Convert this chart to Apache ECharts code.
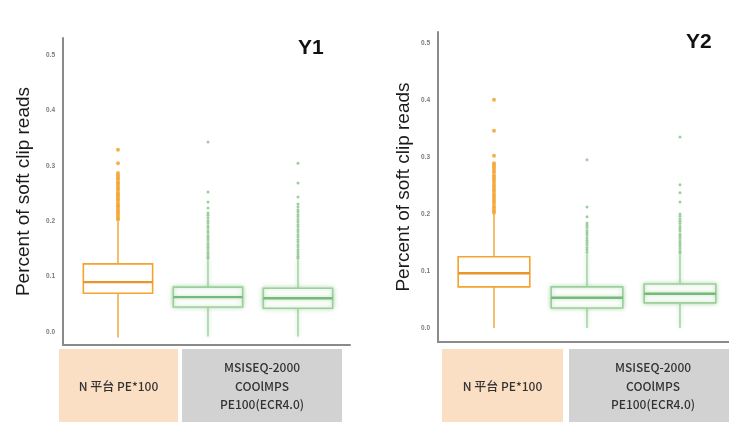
<!DOCTYPE html>
<html>
<head>
<meta charset="utf-8">
<script src="https://cdn.jsdelivr.net/npm/echarts@6/dist/echarts.min.js"></script>
<style>
  html, body { margin: 0; padding: 0; background: #ffffff; }
  #chart { width: 729px; height: 422px; }
</style>
</head>
<body>
<div id="chart"></div>
<script>
// Panel titles and axis text
const panelTitles = ['Y1', 'Y2'];
const yAxisTitle = 'Percent of soft clip reads';
const yTicks = [0, 0.1, 0.2, 0.3, 0.4, 0.5];
const platformLabels = ['N 平台 PE*100', 'MSISEQ-2000\nCOOlMPS\nPE100(ECR4.0)'];

// Box summaries: [group, lower whisker, Q1, median, Q3, upper whisker]
const y1Boxes = [
  [1, -0.010, 0.070, 0.090, 0.123, 0.200],
  [2, -0.008, 0.045, 0.063, 0.081, 0.130],
  [3, -0.008, 0.043, 0.061, 0.079, 0.130]
];
const y2Boxes = [
  [1, 0.000, 0.072, 0.096, 0.125, 0.200],
  [2, 0.000, 0.035, 0.053, 0.072, 0.130],
  [3, 0.000, 0.044, 0.060, 0.077, 0.130]
];

// Outlying samples per group
const y1Out1 = [0.329, 0.305, 0.287, 0.283, 0.279, 0.276, 0.271, 0.268, 0.264, 0.260, 0.257, 0.252, 0.249,
  0.245, 0.241, 0.238, 0.233, 0.229, 0.226, 0.222, 0.218, 0.214, 0.210, 0.206, 0.203];
const y1Out2 = [0.343, 0.253, 0.235, 0.224, 0.215, 0.211, 0.206, 0.201, 0.197, 0.192, 0.188, 0.183, 0.179,
  0.174, 0.170, 0.166, 0.161, 0.157, 0.153, 0.149, 0.144, 0.140, 0.136, 0.133];
const y1Out3 = [0.305, 0.269, 0.244, 0.231, 0.226, 0.221, 0.217, 0.212, 0.208, 0.203, 0.199, 0.194, 0.190,
  0.185, 0.181, 0.176, 0.172, 0.167, 0.163, 0.158, 0.154, 0.149, 0.145, 0.141, 0.137, 0.133];
const y2Out1 = [0.400, 0.346, 0.302, 0.289, 0.285, 0.281, 0.277, 0.273, 0.268, 0.264, 0.260, 0.256, 0.251,
  0.247, 0.243, 0.239, 0.234, 0.230, 0.226, 0.222, 0.218, 0.213, 0.209, 0.205, 0.202];
const y2Out2 = [0.295, 0.212, 0.195, 0.184, 0.180, 0.176, 0.171, 0.167, 0.163, 0.158, 0.154, 0.150, 0.146,
  0.141, 0.137, 0.133];
const y2Out3 = [0.335, 0.251, 0.237, 0.221, 0.200, 0.196, 0.191, 0.187, 0.183, 0.178, 0.174, 0.170, 0.165,
  0.161, 0.157, 0.152, 0.148, 0.144, 0.140, 0.135, 0.132];

const ORANGE = '#F3A32E';
const ORANGE_MED = '#E9952A';
const GREEN = '#9CCF9C';
const GREEN_MED = '#77B97A';
const GREEN_DOT = '#8CC78C';
const BOX_SPAN = 0.77;

function boxRenderer(colors) {
  return function (params, api) {
    const x = api.value(0);
    const c = colors[params.dataIndex];
    const lo = api.coord([x, api.value(1)]);
    const q1 = api.coord([x, api.value(2)]);
    const md = api.coord([x, api.value(3)]);
    const q3 = api.coord([x, api.value(4)]);
    const hi = api.coord([x, api.value(5)]);
    const w = api.size([BOX_SPAN, 0])[0];
    const glow = c.glow ? { shadowBlur: 4, shadowColor: c.glow } : {};
    return {
      type: 'group',
      children: [
        { type: 'line', shape: { x1: lo[0], y1: lo[1], x2: q1[0], y2: q1[1] },
          style: Object.assign({ stroke: c.line, lineWidth: 1.4 }, glow) },
        { type: 'line', shape: { x1: q3[0], y1: q3[1], x2: hi[0], y2: hi[1] },
          style: Object.assign({ stroke: c.line, lineWidth: 1.4 }, glow) },
        { type: 'rect', shape: { x: q3[0] - w / 2, y: q3[1], width: w, height: q1[1] - q3[1] },
          style: Object.assign({ fill: '#ffffff', stroke: c.line, lineWidth: 1.6 }, glow) },
        { type: 'line', shape: { x1: md[0] - w / 2, y1: md[1], x2: md[0] + w / 2, y2: md[1] },
          style: Object.assign({ stroke: c.median, lineWidth: 2.4 }, glow) }
      ]
    };
  };
}

const boxColors = [
  { line: ORANGE, median: ORANGE_MED },
  { line: GREEN, median: GREEN_MED, glow: 'rgba(140,200,140,0.6)' },
  { line: GREEN, median: GREEN_MED, glow: 'rgba(140,200,140,0.6)' }
];

function outlierSeries(values, group, axisIdx, color, size) {
  return {
    type: 'scatter',
    xAxisIndex: axisIdx,
    yAxisIndex: axisIdx,
    symbolSize: size,
    itemStyle: { color: color, opacity: 0.85 },
    z: 1,
    silent: true,
    data: values.map(v => [group, v])
  };
}

const FONT = 'Liberation Sans, Arial, sans-serif';

function yAxisDef(gridIdx, min, max, gap) {
  return {
    type: 'value',
    gridIndex: gridIdx,
    min: min,
    max: max,
    name: yAxisTitle,
    nameLocation: 'middle',
    nameGap: gap,
    nameTextStyle: { fontFamily: FONT, fontSize: 19, color: '#1a1a1a' },
    axisLine: { show: true, onZero: false, lineStyle: { color: '#8a8a8a', width: 2 } },
    axisTick: { show: false },
    splitLine: { show: false },
    axisLabel: {
      customValues: yTicks,
      formatter: v => v.toFixed(1),
      fontSize: 6.5,
      fontWeight: 'bold',
      color: '#7a7a7a',
      margin: 8,
      fontFamily: FONT
    }
  };
}

function xAxisDef(gridIdx, min, max) {
  return {
    type: 'value',
    gridIndex: gridIdx,
    min: min,
    max: max,
    axisLine: { show: true, onZero: false, lineStyle: { color: '#8a8a8a', width: 2 } },
    axisTick: { show: false },
    axisLabel: { show: false },
    splitLine: { show: false }
  };
}

function labelBlocks(peachX, peachW, greyX, greyW) {
  const top = 349, h = 80;
  const font = '500 12px "Noto Sans CJK SC", "Noto Sans", sans-serif';
  return [
    { type: 'rect', shape: { x: peachX, y: top, width: peachW, height: h }, style: { fill: '#FBDFC5' }, silent: true },
    { type: 'rect', shape: { x: greyX, y: top, width: greyW, height: h }, style: { fill: '#D2D2D2' }, silent: true },
    { type: 'text', x: peachX + peachW / 2, y: 386, silent: true,
      style: { text: platformLabels[0], fill: '#333333', font: font, align: 'center', verticalAlign: 'middle' } },
    { type: 'text', x: greyX + greyW / 2, y: 386, silent: true,
      style: { text: platformLabels[1], fill: '#333333', font: font, align: 'center', verticalAlign: 'middle', lineHeight: 18.5 } }
  ];
}

const chart = echarts.init(document.getElementById('chart'), null, { renderer: 'canvas' });

chart.setOption({
  backgroundColor: '#ffffff',
  animation: false,
  title: [
    { text: panelTitles[0], left: 298, top: 38, padding: 0, textStyle: { fontFamily: FONT, fontSize: 21, fontWeight: 'bold', color: '#111111' } },
    { text: panelTitles[1], left: 686, top: 32, padding: 0, textStyle: { fontFamily: FONT, fontSize: 21, fontWeight: 'bold', color: '#111111' } }
  ],
  grid: [
    { left: 63, top: 38, width: 287, height: 307 },
    { left: 438, top: 32, width: 291, height: 310 }
  ],
  xAxis: [
    xAxisDef(0, 0.389, 3.578),
    xAxisDef(1, 0.398, 3.527)
  ],
  yAxis: [
    yAxisDef(0, -0.0235, 0.531, 30),
    yAxisDef(1, -0.0246, 0.519, 25)
  ],
  series: [
    outlierSeries(y1Out1, 1, 0, ORANGE, 4),
    outlierSeries(y1Out2, 2, 0, GREEN_DOT, 3),
    outlierSeries(y1Out3, 3, 0, GREEN_DOT, 3),
    outlierSeries(y2Out1, 1, 1, ORANGE, 4),
    outlierSeries(y2Out2, 2, 1, GREEN_DOT, 3),
    outlierSeries(y2Out3, 3, 1, GREEN_DOT, 3),
    {
      type: 'custom',
      xAxisIndex: 0, yAxisIndex: 0, z: 3, silent: true,
      renderItem: boxRenderer(boxColors),
      encode: { x: 0, y: [1, 2, 3, 4, 5] },
      data: y1Boxes
    },
    {
      type: 'custom',
      xAxisIndex: 1, yAxisIndex: 1, z: 3, silent: true,
      renderItem: boxRenderer(boxColors),
      encode: { x: 0, y: [1, 2, 3, 4, 5] },
      data: y2Boxes
    }
  ],
  graphic: labelBlocks(59, 119, 182, 160).concat(labelBlocks(442, 121, 569, 168))
});
</script>
</body>
</html>
